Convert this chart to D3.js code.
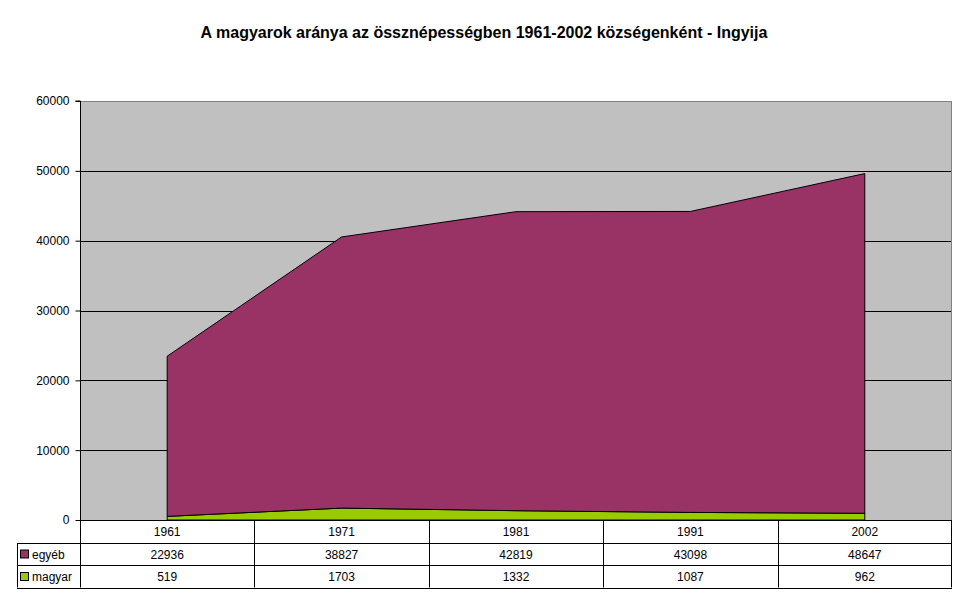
<!DOCTYPE html>
<html>
<head>
<meta charset="utf-8">
<script src="https://cdn.jsdelivr.net/npm/d3@7"></script>
<style>
  body { margin: 0; background: #fff; }
  text { font-family: "Liberation Sans", Arial, sans-serif; }
</style>
</head>
<body>
<div id="chart"></div>
<script>
// data
let years   = ["1961", "1971", "1981", "1991", "2002"];
let egyeb   = [22936, 38827, 42819, 43098, 48647];
let magyar  = [519, 1703, 1332, 1087, 962];
let yTicks  = [0, 10000, 20000, 30000, 40000, 50000, 60000];
let seriesNames  = ["egyéb", "magyar"];
let seriesColors = ["#993366", "#99CC00"];

let width = 968, height = 604;
let plotLeft = 80, plotRight = 952, plotTop = 101, plotBottom = 520;
let rowH = 22.5;

let svg = d3.select("#chart").append("svg")
  .attr("width", width)
  .attr("height", height);

svg.append("text")
  .attr("x", 484).attr("y", 38)
  .attr("text-anchor", "middle")
  .style("font-size", "16px")
  .style("font-weight", "bold")
  .text("A magyarok aránya az össznépességben 1961-2002 községenként - Ingyija");

let xBand = d3.scaleBand().domain(years).range([plotLeft, plotRight]);
let x = function(i) { return xBand(years[i]) + xBand.bandwidth() / 2; };
let y = d3.scaleLinear().domain([0, 60000]).range([plotBottom, plotTop]);

// plot background
svg.append("rect")
  .attr("x", plotLeft).attr("y", plotTop)
  .attr("width", plotRight - plotLeft).attr("height", plotBottom - plotTop)
  .attr("fill", "#C0C0C0");

// gridlines
svg.append("g").selectAll("line")
  .data(yTicks.filter(d => d > 0 && d < 60000))
  .enter().append("line")
  .attr("x1", plotLeft).attr("x2", plotRight)
  .attr("y1", d => Math.round(y(d)) + 0.5).attr("y2", d => Math.round(y(d)) + 0.5)
  .attr("stroke", "#000");

// border top/right in grey
svg.append("path")
  .attr("d", `M${plotLeft},${plotTop + 0.5}H${plotRight - 0.5}V${plotBottom}`)
  .attr("fill", "none")
  .attr("stroke", "#808080");

// stacked areas
let rows = years.map((yr, i) => ({ i: i, magyar: magyar[i], "egyéb": egyeb[i] }));
let stack = d3.stack().keys(["magyar", "egyéb"])(rows);
let area = d3.area()
  .x(d => x(d.data.i))
  .y0(d => y(d[0]))
  .y1(d => y(d[1]));

svg.append("g").selectAll("path")
  .data(stack)
  .enter().append("path")
  .attr("d", area)
  .attr("fill", d => d.key === "magyar" ? seriesColors[1] : seriesColors[0])
  .attr("stroke", "#000")
  .attr("stroke-width", 1);

// y axis
let yAxis = d3.axisLeft(y).tickValues(yTicks).tickSize(5).tickFormat(d3.format("d"));
let ya = svg.append("g")
  .attr("transform", `translate(${plotLeft + 0.5},0)`)
  .call(yAxis);
ya.select(".domain").attr("stroke", "#000").attr("d", `M-5,${plotTop}H0V${plotBottom}`);
ya.selectAll("text").style("font-size", "12px").attr("fill", "#000").attr("dx", "-3");
ya.selectAll("line").attr("stroke", "#000");

// data table
let tbl = svg.append("g");
let tblBottom = plotBottom + rowH * 3;
tbl.append("line").attr("x1", plotLeft).attr("x2", plotRight)
  .attr("y1", plotBottom + 0.5).attr("y2", plotBottom + 0.5).attr("stroke", "#000");
[1, 2, 3].forEach(r => {
  tbl.append("line")
    .attr("x1", 17).attr("x2", plotRight)
    .attr("y1", Math.round(plotBottom + rowH * r) + 0.5).attr("y2", Math.round(plotBottom + rowH * r) + 0.5)
    .attr("stroke", "#000");
});
tbl.append("line").attr("x1", 17.5).attr("x2", 17.5)
  .attr("y1", Math.round(plotBottom + rowH)).attr("y2", tblBottom).attr("stroke", "#000");
years.forEach(yr => {
  tbl.append("line")
    .attr("x1", Math.round(xBand(yr)) + 0.5).attr("x2", Math.round(xBand(yr)) + 0.5)
    .attr("y1", plotBottom).attr("y2", tblBottom)
    .attr("stroke", "#000");
});
tbl.append("line").attr("x1", plotRight - 0.5).attr("x2", plotRight - 0.5)
  .attr("y1", plotBottom).attr("y2", tblBottom).attr("stroke", "#000");

// year header
tbl.selectAll("text.yr").data(years).enter().append("text")
  .attr("x", (d, i) => x(i)).attr("y", plotBottom + 16)
  .attr("text-anchor", "middle")
  .style("font-size", "12px")
  .text(d => d);

let tableSeries = [egyeb, magyar];
tableSeries.forEach((vals, r) => {
  let ry = plotBottom + rowH * (r + 1);
  tbl.append("rect")
    .attr("x", 20.5).attr("y", ry + 7.5)
    .attr("width", 8).attr("height", 8)
    .attr("fill", seriesColors[r]).attr("stroke", "#000");
  tbl.append("text")
    .attr("x", 32).attr("y", ry + 16)
    .style("font-size", "12px")
    .text(seriesNames[r]);
  tbl.selectAll("text.v" + r).data(vals).enter().append("text")
    .attr("x", (d, i) => x(i)).attr("y", ry + 16)
    .attr("text-anchor", "middle")
    .style("font-size", "12px")
    .text(d => d);
});
</script>
</body>
</html>
